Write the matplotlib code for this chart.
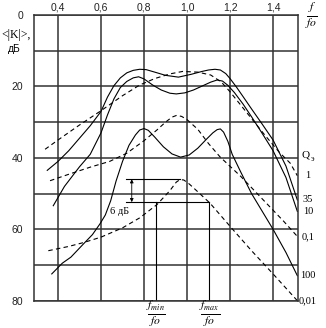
import matplotlib.pyplot as plt
import matplotlib.transforms as mtransforms

plt.rcParams['font.family'] = ['Liberation Sans', 'DejaVu Sans']
plt.rcParams['mathtext.fontset'] = 'stix'

# f/fo and <|K|>, dB, one pair of lists per curve
q1_x = [0.34, 0.40, 0.50, 0.60, 0.70, 0.78, 0.85, 0.92, 0.98, 1.05, 1.11, 1.16, 1.20, 1.28, 1.36, 1.43, 1.48, 1.513]
q1_y = [37.6, 35.0, 30.8, 26.8, 22.6, 19.6, 17.8, 16.5, 15.8, 16.0, 16.8, 18.8, 21.5, 27.5, 33.5, 38.5, 41.5, 45.0]

q35_x = [0.35, 0.40, 0.45, 0.50, 0.55, 0.60, 0.63, 0.66, 0.69, 0.72, 0.75, 0.78, 0.81, 0.85, 0.90, 0.96, 1.02, 1.07, 1.10, 1.13, 1.155, 1.18, 1.20, 1.23, 1.26, 1.30, 1.35, 1.40, 1.46, 1.513]
q35_y = [43.5, 41.0, 38.0, 34.5, 31.0, 27.0, 23.0, 19.8, 17.6, 16.2, 15.5, 15.2, 15.3, 16.0, 16.9, 17.4, 16.6, 15.8, 15.4, 15.2, 15.4, 16.4, 17.8, 20.2, 22.8, 26.3, 30.6, 35.0, 42.3, 51.8]

q10_x = [0.378, 0.43, 0.50, 0.55, 0.60, 0.63, 0.66, 0.69, 0.72, 0.75, 0.775, 0.80, 0.84, 0.88, 0.92, 0.95, 0.99, 1.03, 1.07, 1.11, 1.14, 1.165, 1.19, 1.22, 1.26, 1.30, 1.35, 1.40, 1.46, 1.513]
q10_y = [53.4, 48.0, 42.5, 39.0, 33.0, 28.0, 23.5, 20.3, 18.6, 17.6, 17.3, 17.9, 19.6, 21.0, 21.9, 22.1, 21.8, 21.0, 19.9, 18.8, 18.2, 18.5, 19.7, 21.7, 24.9, 28.5, 33.2, 38.0, 45.5, 55.0]

q100_x = [0.371, 0.42, 0.46, 0.52, 0.56, 0.595, 0.62, 0.645, 0.67, 0.70, 0.73, 0.76, 0.78, 0.80, 0.82, 0.85, 0.89, 0.93, 0.97, 1.01, 1.05, 1.09, 1.12, 1.14, 1.155, 1.17, 1.19, 1.21, 1.25, 1.30, 1.40, 1.46, 1.513]
q100_y = [72.5, 69.5, 67.8, 64.0, 61.5, 58.5, 56.0, 52.0, 46.5, 41.0, 36.5, 33.6, 32.2, 31.8, 32.3, 34.2, 36.9, 38.9, 39.8, 39.2, 37.3, 34.8, 33.0, 32.1, 31.9, 32.8, 35.4, 39.0, 44.0, 50.0, 60.0, 66.5, 73.0]

q01_x = [0.363, 0.45, 0.55, 0.64, 0.72, 0.80, 0.86, 0.90, 0.93, 0.952, 0.975, 1.00, 1.05, 1.10, 1.153, 1.25, 1.35, 1.45, 1.513]
q01_y = [46.4, 44.6, 42.6, 41.0, 38.7, 35.2, 32.2, 30.0, 28.6, 28.1, 28.4, 29.3, 32.0, 36.0, 39.7, 45.2, 51.5, 57.8, 62.0]

q001_x = [0.355, 0.45, 0.52, 0.60, 0.70, 0.78, 0.86, 0.92, 0.95, 0.967, 0.985, 1.01, 1.05, 1.107, 1.215, 1.30, 1.40, 1.513]
q001_y = [66.0, 64.8, 63.7, 62.2, 59.6, 56.8, 53.1, 49.2, 46.8, 46.1, 46.2, 47.3, 49.5, 52.7, 60.2, 66.0, 72.5, 80.0]

# 6 dB band
level_peak = 46.0
level_6db = 52.4
f_min = 0.856
f_max = 1.104
peak_f = 0.967

x_ticks = [0.4, 0.6, 0.8, 1.0, 1.2, 1.4]
x_labels = ['0,4', '0,6', '0,8', '1,0', '1,2', '1,4']
y_ticks = [0, 10, 20, 30, 40, 50, 60, 70, 80]
y_labels = ['0', '', '20', '', '40', '', '60', '', '80']

fig = plt.figure(figsize=(3.26, 3.28), dpi=100)
ax = fig.add_axes([0.1043, 0.0832, 0.8098, 0.8711])
ax.set_xlim(0.2884, 1.516)
ax.set_ylim(80, 0)

ax.xaxis.tick_top()
ax.set_xticks(x_ticks)
ax.set_xticklabels(x_labels)
ax.set_yticks(y_ticks)
ax.set_yticklabels(y_labels)
ax.tick_params(length=0, labelsize=7.5, colors='#222222')
ax.tick_params(axis='x', pad=2)
ax.tick_params(axis='y', pad=8)
ax.grid(color='#333333', lw=1.1)
for s in ax.spines.values():
    s.set_color('#333333')
    s.set_linewidth(1.1)

dash = (0, (4, 3))
solid_kw = dict(color='k', lw=0.8)
dash_kw = dict(color='k', lw=0.8, linestyle=dash)

curves = [
    (q1_x, q1_y, '1', dash_kw),
    (q35_x, q35_y, '35', solid_kw),
    (q10_x, q10_y, '10', solid_kw),
    (q01_x, q01_y, '0,1', dash_kw),
    (q100_x, q100_y, '100', solid_kw),
    (q001_x, q001_y, '0,01', dash_kw),
]
right = mtransforms.blended_transform_factory(ax.transAxes, ax.transData)
for xs, ys, lab, kw in curves:
    ax.plot(xs, ys, **kw)
    ax.text(1.038, ys[-1], lab, transform=right, ha='center', va='center',
            fontsize=7.5, family='Liberation Serif')
ax.text(1.03, 39.2, 'Q', transform=right, ha='center', va='center',
        fontsize=8, family='Liberation Serif')
ax.text(1.055, 40.2, 'э', transform=right, ha='center', va='center',
        fontsize=6, family='Liberation Serif')

# 6 dB marker
ax.plot([0.715, peak_f], [level_peak, level_peak], color='k', lw=0.8)
ax.plot([0.715, f_max], [level_6db, level_6db], color='k', lw=0.8)
ax.plot([f_min, f_min], [level_6db, 80], color='k', lw=0.8)
ax.plot([f_max, f_max], [level_6db, 80], color='k', lw=0.8)
ax.annotate('', xy=(0.743, level_peak), xytext=(0.743, level_6db),
            arrowprops=dict(arrowstyle='<|-|>', lw=0.6, color='k',
                            mutation_scale=5, shrinkA=0, shrinkB=0))
ax.text(0.688, 55.1, '6 дБ', ha='center', va='center', fontsize=7.5,
        family='Liberation Serif')

bottom = mtransforms.blended_transform_factory(ax.transData, ax.transAxes)
ax.text(f_min, -0.045, r'$\frac{f_{min}}{fo}$', transform=bottom,
        ha='center', va='center', fontsize=12)
ax.text(f_max, -0.045, r'$\frac{f_{max}}{fo}$', transform=bottom,
        ha='center', va='center', fontsize=12)
ax.text(1.05, 0.995, r'$\frac{f}{fo}$', transform=ax.transAxes,
        ha='center', va='center', fontsize=12)

fig.text(0.05, 0.893, '<|K|>,', ha='center', va='center', fontsize=8.5,
         family='Liberation Serif')
fig.text(0.043, 0.851, 'дБ', ha='center', va='center', fontsize=7.5)

fig.savefig('out.png', dpi=100)
